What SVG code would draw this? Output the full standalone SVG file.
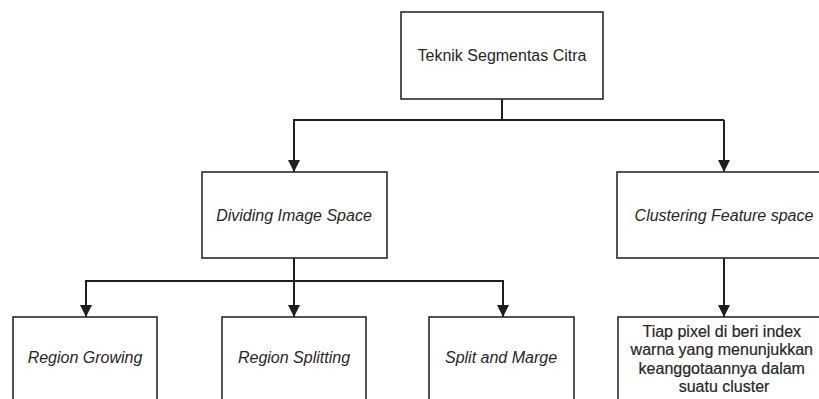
<svg xmlns="http://www.w3.org/2000/svg" width="819" height="399" viewBox="0 0 819 399">
  <defs>
    <style>
      .box { fill: #ffffff; stroke: #2b2b2b; stroke-width: 1.6; }
      .lbl { font-family: "Liberation Sans", Arial, sans-serif; font-size: 16px; fill: #262626; text-anchor: middle; }
      .it { font-style: italic; }
      .edge { fill: none; stroke: #1e1e1e; stroke-width: 2; }
    </style>
    <marker id="arrow" viewBox="0 0 12 12" refX="12" refY="6" markerWidth="12" markerHeight="12" markerUnits="userSpaceOnUse" orient="auto">
      <path d="M0,0 L12,6 L0,12 Z" fill="#1e1e1e"/>
    </marker>
  </defs>
  <rect width="819" height="399" fill="#ffffff"/>

  <g id="connectors">
    <path class="edge" d="M502,99 V120"/>
    <path class="edge" d="M293,120 H724"/>
    <path class="edge" d="M294,120 V172" marker-end="url(#arrow)"/>
    <path class="edge" d="M724,120 V172" marker-end="url(#arrow)"/>
    <path class="edge" d="M294,258 V281"/>
    <path class="edge" d="M85,281 H504"/>
    <path class="edge" d="M86,281 V317" marker-end="url(#arrow)"/>
    <path class="edge" d="M294,281 V317" marker-end="url(#arrow)"/>
    <path class="edge" d="M503,281 V317" marker-end="url(#arrow)"/>
    <path class="edge" d="M724,258 V317" marker-end="url(#arrow)"/>
  </g>

  <g id="teknik-segmentas-citra">
    <rect class="box" x="401" y="12" width="202" height="87"/>
    <text class="lbl" x="502" y="61">Teknik Segmentas Citra</text>
  </g>

  <g id="dividing-image-space">
    <rect class="box" x="202" y="172" width="185" height="86"/>
    <text class="lbl it" x="294" y="221">Dividing Image Space</text>
  </g>

  <g id="clustering-feature-space">
    <rect class="box" x="617" y="172" width="214" height="86"/>
    <text class="lbl it" x="724" y="221">Clustering Feature space</text>
  </g>

  <g id="region-growing">
    <rect class="box" x="13" y="317" width="144" height="100"/>
    <text class="lbl it" x="85" y="363">Region Growing</text>
  </g>

  <g id="region-splitting">
    <rect class="box" x="222" y="317" width="144" height="100"/>
    <text class="lbl it" x="294" y="363">Region Splitting</text>
  </g>

  <g id="split-and-marge">
    <rect class="box" x="429" y="317" width="145" height="100"/>
    <text class="lbl it" x="501" y="363">Split and Marge</text>
  </g>

  <g id="pixel-index">
    <rect class="box" x="618" y="317" width="213" height="100"/>
    <text class="lbl" style="stroke:#262626; stroke-width:0.2">
      <tspan x="724" y="337">Tiap pixel di beri index</tspan>
      <tspan x="724" y="355">warna yang menunjukkan</tspan>
      <tspan x="724" y="374">keanggotaannya dalam</tspan>
      <tspan x="724" y="392">suatu cluster</tspan>
    </text>
  </g>
</svg>
